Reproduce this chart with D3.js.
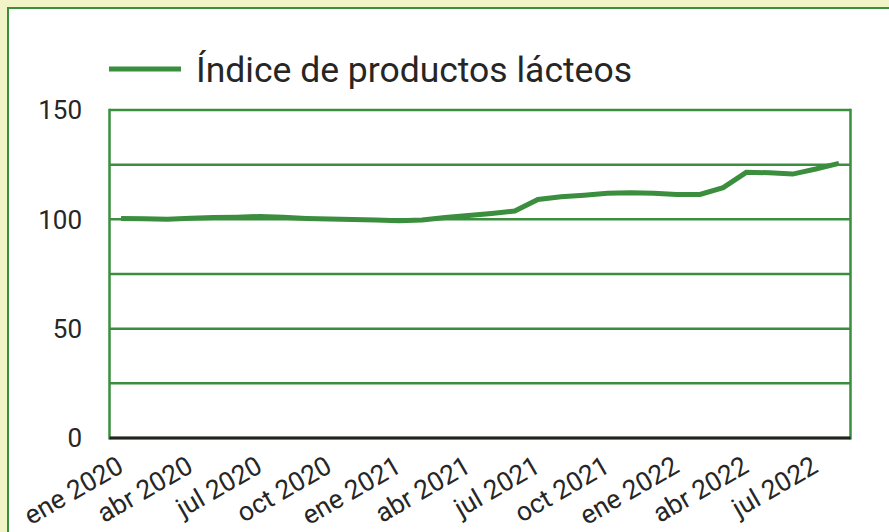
<!DOCTYPE html>
<html>
<head>
<meta charset="utf-8">
<script src="https://cdn.jsdelivr.net/npm/d3@7"></script>
<style>
  html, body { margin: 0; padding: 0; background: #f2f4c8; }
  svg { display: block; }
  text { font-family: Roboto, "Noto Sans", sans-serif; fill: #262626; }
</style>
</head>
<body>
<svg id="chart" width="889" height="532"></svg>
<script>
// Monthly dairy price index, January 2020 to August 2022
const months = [
  "ene 2020", "feb 2020", "mar 2020", "abr 2020", "may 2020", "jun 2020",
  "jul 2020", "ago 2020", "sep 2020", "oct 2020", "nov 2020", "dic 2020",
  "ene 2021", "feb 2021", "mar 2021", "abr 2021", "may 2021", "jun 2021",
  "jul 2021", "ago 2021", "sep 2021", "oct 2021", "nov 2021", "dic 2021",
  "ene 2022", "feb 2022", "mar 2022", "abr 2022", "may 2022", "jun 2022",
  "jul 2022", "ago 2022"
];
const dairyIndex = [
  100.4, 100.3, 100.0, 100.5, 100.8, 101.0,
  101.3, 100.9, 100.4, 100.1, 99.9, 99.7,
  99.3, 99.7, 100.8, 101.7, 102.7, 103.8,
  109.1, 110.3, 111.0, 111.9, 112.1, 111.9,
  111.4, 111.4, 114.5, 121.5, 121.3, 120.7,
  123.0, 125.6
];
const xTickLabels = [
  "ene 2020", "abr 2020", "jul 2020", "oct 2020", "ene 2021", "abr 2021",
  "jul 2021", "oct 2021", "ene 2022", "abr 2022", "jul 2022"
];
const yTicks = [0, 50, 100, 150];
const yGrid = [0, 25, 50, 75, 100, 125, 150];
const seriesName = "Índice de productos lácteos";

const green = "#3a8e3d";
const svg = d3.select("#chart");

// card
svg.append("rect")
  .attr("x", 8).attr("y", 8)
  .attr("width", 1000).attr("height", 1000)
  .attr("fill", "#ffffff")
  .attr("stroke", green).attr("stroke-width", 2);

const plot = { left: 109.5, right: 850.5, top: 110, bottom: 438 };

const x = d3.scaleBand()
  .domain(months)
  .range([plot.left, plot.right]);

const y = d3.scaleLinear()
  .domain([0, 150])
  .range([plot.bottom, plot.top]);

// horizontal gridlines
svg.append("g")
  .selectAll("line")
  .data(yGrid)
  .join("line")
  .attr("x1", plot.left).attr("x2", plot.right)
  .attr("y1", d => y(d)).attr("y2", d => y(d))
  .attr("stroke", green).attr("stroke-width", 2.5);

// plot frame sides
svg.append("line")
  .attr("x1", plot.left).attr("x2", plot.left)
  .attr("y1", y(150) - 1.25).attr("y2", y(0) + 1.5)
  .attr("stroke", green).attr("stroke-width", 2.5);
svg.append("line")
  .attr("x1", plot.right).attr("x2", plot.right)
  .attr("y1", y(150) - 1.25).attr("y2", y(0) + 1.5)
  .attr("stroke", green).attr("stroke-width", 2.5);

// baseline
svg.append("line")
  .attr("x1", plot.left).attr("x2", plot.right)
  .attr("y1", y(0)).attr("y2", y(0))
  .attr("stroke", "#222222").attr("stroke-width", 3);

// y-axis labels
svg.append("g")
  .selectAll("text")
  .data(yTicks)
  .join("text")
  .attr("x", 82)
  .attr("y", d => y(d))
  .attr("dy", "0.36em")
  .attr("text-anchor", "end")
  .attr("font-size", 26)
  .text(d => d);

// x-axis labels, rotated
svg.append("g")
  .selectAll("text")
  .data(xTickLabels)
  .join("text")
  .attr("transform", d => `translate(${x(d) + x.bandwidth() / 2 + 4},471) rotate(-30)`)
  .attr("text-anchor", "end")
  .attr("font-size", 26.5)
  .text(d => d);

// series line
const line = d3.line()
  .x((d, i) => x(months[i]) + x.bandwidth() / 2)
  .y(d => y(d));

svg.append("path")
  .datum(dairyIndex)
  .attr("d", line)
  .attr("fill", "none")
  .attr("stroke", green)
  .attr("stroke-width", 5);

// legend
const legend = svg.append("g");
legend.append("line")
  .attr("x1", 109).attr("x2", 181)
  .attr("y1", 69).attr("y2", 69)
  .attr("stroke", green).attr("stroke-width", 5);
legend.append("text")
  .attr("x", 196).attr("y", 82)
  .attr("font-size", 35.5)
  .text(seriesName);
</script>
</body>
</html>
